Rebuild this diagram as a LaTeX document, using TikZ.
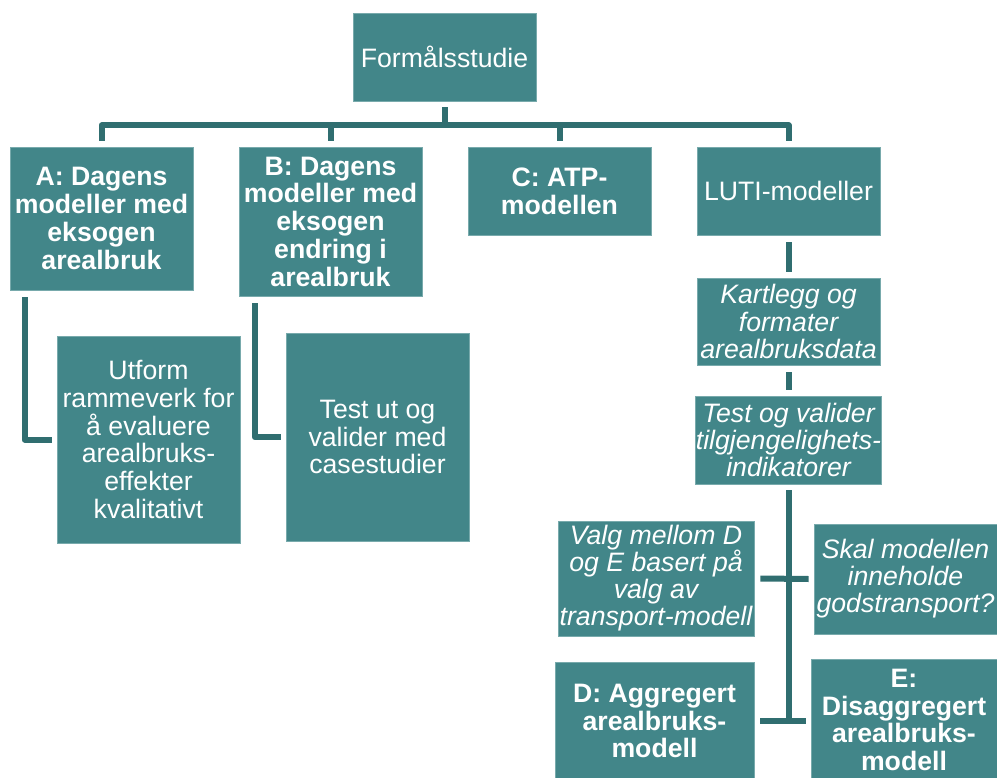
\documentclass[tikz,border=0pt]{standalone}
\usepackage{fontspec}
\setmainfont{Liberation Sans}
\usetikzlibrary{calc}
\definecolor{boxfill}{RGB}{66,134,137}
\definecolor{boxedge}{RGB}{120,170,172}
\definecolor{linkcol}{RGB}{48,110,112}
\tikzset{
  box/.style={rectangle, fill=boxfill, draw=boxedge, line width=0.6pt,
    text=white, align=center, inner sep=0pt,
    font=\fontsize{20}{20.8}\selectfont},
  boldbox/.style={box, font=\fontsize{20}{20.8}\selectfont\bfseries},
  itbox/.style={box, font=\fontsize{20}{20.3}\selectfont\itshape},
  wh/.style 2 args={minimum width=#1*0.75pt, minimum height=#2*0.75pt},
  conn/.style={draw=linkcol, line width=4.5pt, line join=round}
}
\begin{document}
\begin{tikzpicture}[x=0.75pt, y=-0.75pt]
\useasboundingbox (0,0) rectangle (997,778);
\clip (0,0) rectangle (997,778);

% top level
\node[box, wh={183}{88}] (top) at (444.5,57) {Formålsstudie};

% second level
\node[boldbox, wh={183}{143}] (A) at (101.5,218.5) {A: Dagens\\modeller med\\eksogen\\arealbruk};
\node[boldbox, wh={183}{149}] (B) at (330.5,221.5) {B: Dagens\\modeller med\\eksogen\\endring i\\arealbruk};
\node[boldbox, wh={183}{88}] (C) at (559.5,191) {C: ATP-\\modellen};
\node[box, wh={183}{88}] (L) at (788.5,191) {LUTI-modeller};

% sub steps of A and B
\node[box, wh={183}{207}] (U) at (148.5,439.5) {Utform\\rammeverk for\\å evaluere\\arealbruks-\\effekter\\kvalitativt};
\node[box, wh={183}{208}] (T) at (377.5,437) {Test ut og\\valider med\\casestudier};

% LUTI chain
\node[itbox, wh={183}{87}] (K) at (788.5,321.5) {Kartlegg og\\formater\\arealbruksdata};
\node[itbox, wh={183}{88}] (V) at (788.5,440) {Test og valider\\tilgjengelighets-\\indikatorer};
\node[itbox, wh={196}{115}] (Q) at (656,578.5) {Valg mellom D\\og E basert på\\valg av\\transport-modell};
\node[itbox, wh={183}{110}] (S) at (905.5,579) {Skal modellen\\inneholde\\godstransport?};
\node[boldbox, wh={199}{118}] (D) at (654.5,721) {D: Aggregert\\arealbruks-\\modell};
\node[boldbox, wh={186}{122}] (E) at (904,720) {E:\\Disaggregert\\arealbruks-\\modell};

% connectors of the top tree
\coordinate (hub) at ($(top.south)+(0,24)$);
\draw[conn] ([yshift=-4.5pt]top.south) -- (hub);
\draw[conn] ([yshift=4.5pt]A.north) |- (hub) -| ([yshift=4.5pt]L.north);
\draw[conn] ([yshift=4.5pt]B.north) -- (B.north |- hub);
\draw[conn] ([yshift=4.5pt]C.north) -- (C.north |- hub);

% side links to sub steps
\draw[conn] ($(A.south west)+(15,7)$) |- ($(U.west)+(-5,0)$);
\draw[conn] ($(B.south west)+(16,7)$) |- ($(T.west)+(-5,0)$);

% LUTI chain
\draw[conn] ($(L.south)+(0,7)$) -- ($(K.north)+(0,-6)$);
\draw[conn] ($(K.south)+(0,7)$) -- ($(V.north)+(0,-6)$);
\draw[conn] ($(V.south)+(0,6)$) -- (V.south |- D.east);
\draw[conn] ($(Q.east)+(6,0)$) -- ($(S.west)+(-5,0)$);
\draw[conn] ($(D.east)+(6,0)$) -- ($(E.west |- D.east)+(-5,0)$);
\end{tikzpicture}
\end{document}
